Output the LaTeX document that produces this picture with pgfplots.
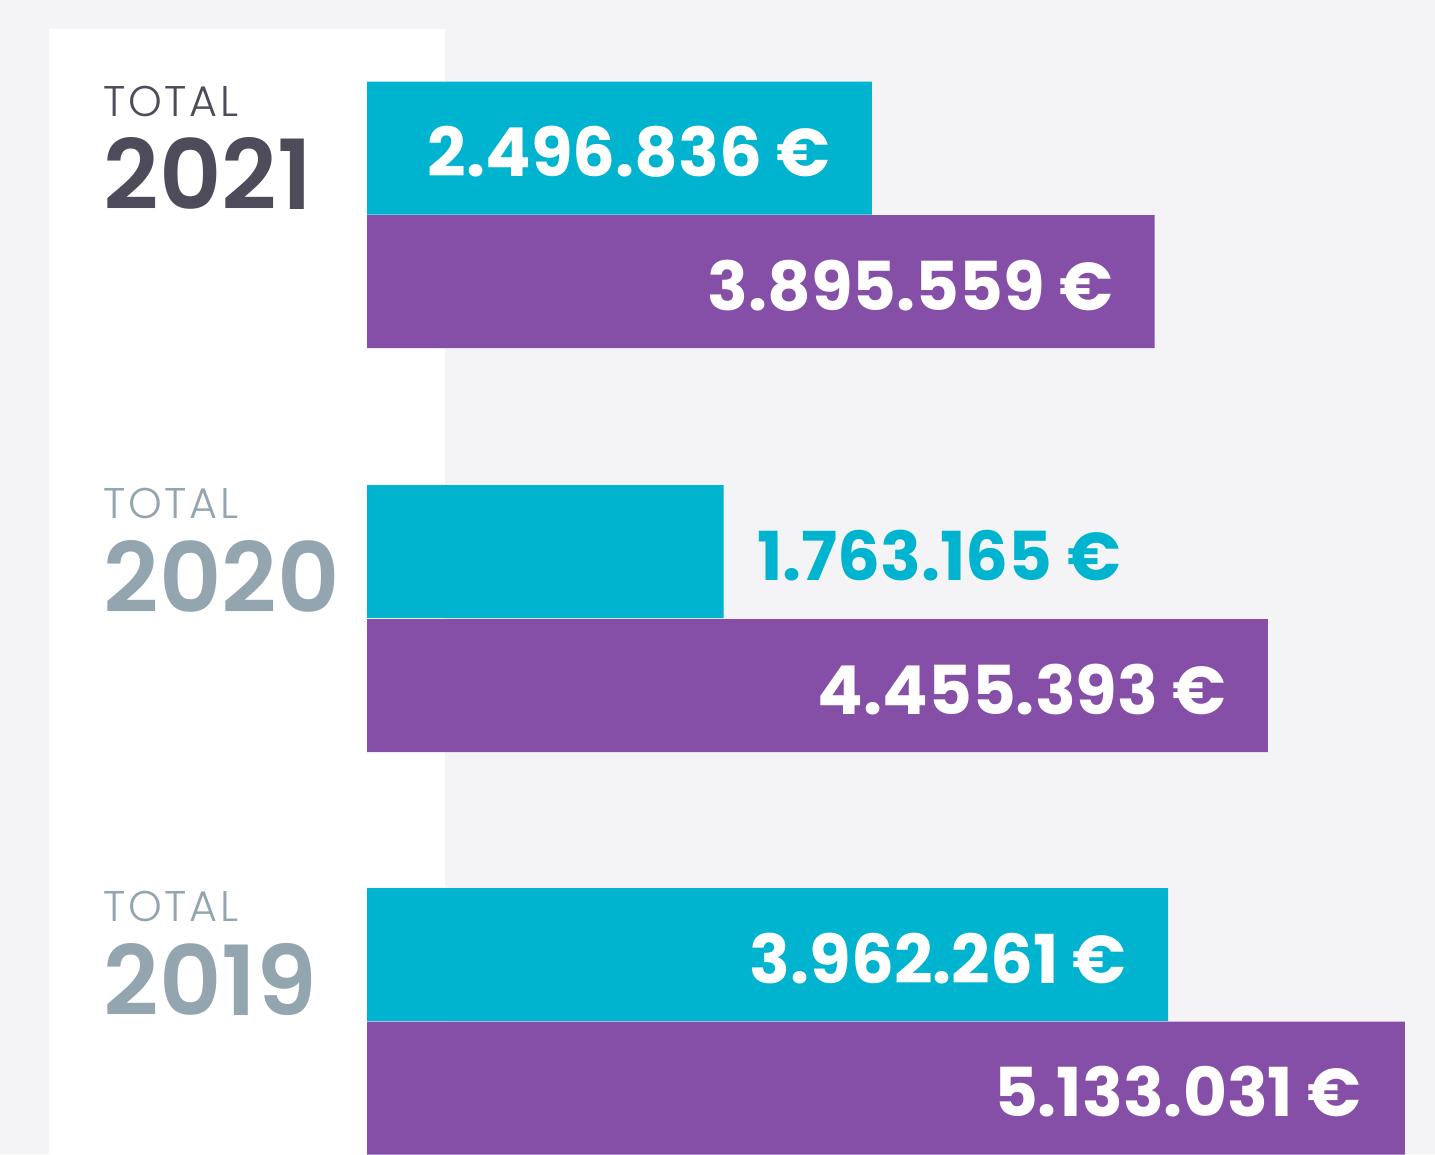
\documentclass[border=0pt]{standalone}
\usepackage{fontspec}
\setmainfont{Poppins}
\newfontfamily\poplight{Poppins Light}[LetterSpace=6]
\newfontfamily\popsemi{Poppins SemiBold}
\usepackage{pgfplots}
\pgfplotsset{compat=1.18}
\definecolor{bgc}{HTML}{F4F4F6}
\definecolor{cyanbar}{HTML}{00B3CE}
\definecolor{purplebar}{HTML}{864FA7}
\definecolor{darkyear}{HTML}{4E4C5A}
\definecolor{grayyear}{HTML}{93A5AF}
\begin{document}
\begin{tikzpicture}
\begin{axis}[
  at={(0,0)}, anchor=south west,
  scale only axis, width=14.35cm, height=11.54cm,
  xmin=-1.81503, xmax=5.28190, ymin=0, ymax=1154,
  y dir=reverse, axis lines=none, clip=false,
  xbar, bar width=133,
]
\fill[bgc] (rel axis cs:0,0) rectangle (rel axis cs:1,1);
\fill[white] (axis cs:-1.5727,29) rectangle (axis cs:0.3858,1154);
\addplot[fill=cyanbar, draw=none, bar shift=0pt] coordinates {(2.496836,148) (1.763165,551.5) (3.962261,954.5)};
\addplot[fill=purplebar, draw=none, bar shift=0pt] coordinates {(3.895559,281.5) (4.455393,685.5) (5.133031,1088)};
% value labels
\begin{scope}[every node/.style={font=\bfseries\fontsize{19.2}{23}\selectfont, inner sep=0pt}]
\node[white, anchor=base east, xshift=-0.41cm] at (axis cs:2.496836,176.5) {2.496.836 €};
\node[white, anchor=base east, xshift=-0.41cm] at (axis cs:3.895559,310) {3.895.559 €};
\node[cyanbar, anchor=base west, xshift=0.33cm] at (axis cs:1.763165,580) {1.763.165 €};
\node[white, anchor=base east, xshift=-0.41cm] at (axis cs:4.455393,714) {4.455.393 €};
\node[white, anchor=base east, xshift=-0.41cm] at (axis cs:3.962261,983) {3.962.261 €};
\node[white, anchor=base east, xshift=-0.43cm] at (axis cs:5.133031,1116.5) {5.133.031 €};
\end{scope}
% year labels
\begin{scope}[every node/.style={inner sep=0pt, anchor=base west}]
\node[darkyear, font=\poplight\fontsize{12.2}{14}\selectfont] at (axis cs:-1.3056,116) {TOTAL};
\node[darkyear, font=\popsemi\fontsize{27.5}{32}\selectfont] at (axis cs:-1.3056,209) {2021};
\node[grayyear, font=\poplight\fontsize{12.2}{14}\selectfont] at (axis cs:-1.3056,518) {TOTAL};
\node[grayyear, font=\popsemi\fontsize{27.5}{32}\selectfont] at (axis cs:-1.3056,612) {2020};
\node[grayyear, font=\poplight\fontsize{12.2}{14}\selectfont] at (axis cs:-1.3056,921) {TOTAL};
\node[grayyear, font=\popsemi\fontsize{27.5}{32}\selectfont] at (axis cs:-1.3056,1015) {2019};
\end{scope}
\end{axis}
\end{tikzpicture}
\end{document}
